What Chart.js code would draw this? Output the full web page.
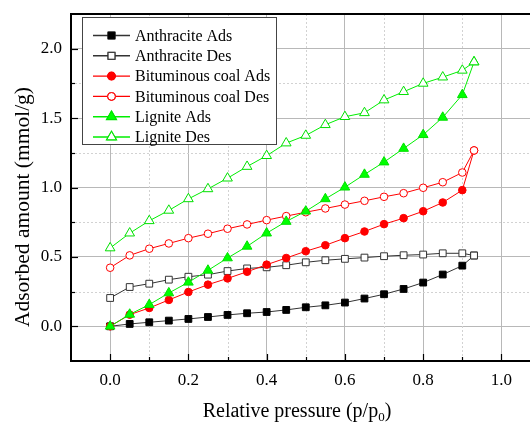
<!DOCTYPE html>
<html>
<head>
<meta charset="utf-8">
<script src="https://cdn.jsdelivr.net/npm/chart.js@4.4.0/dist/chart.umd.min.js"></script>
<style>
  html, body { margin: 0; padding: 0; background: #fff; }
</style>
</head>
<body>
<canvas id="chart" width="530" height="423"></canvas>
<script>
// relative pressure p/p0
const pressure = [0, 0.05, 0.1, 0.15, 0.2, 0.25, 0.3, 0.35, 0.4, 0.45, 0.5, 0.55, 0.6, 0.65, 0.7, 0.75, 0.8, 0.85, 0.9, 0.93];

// adsorbed amount, mmol/g
const anthraciteAds = [0, 0.017, 0.029, 0.041, 0.053, 0.067, 0.082, 0.094, 0.103, 0.118, 0.137, 0.151, 0.171, 0.2, 0.231, 0.269, 0.315, 0.373, 0.437, 0.51];
const anthraciteDes = [0.204, 0.283, 0.307, 0.336, 0.357, 0.372, 0.398, 0.417, 0.425, 0.44, 0.461, 0.476, 0.486, 0.495, 0.505, 0.512, 0.517, 0.526, 0.526, 0.51];
const bituminousAds = [0, 0.084, 0.132, 0.19, 0.247, 0.3, 0.345, 0.393, 0.444, 0.492, 0.541, 0.584, 0.635, 0.683, 0.736, 0.779, 0.829, 0.892, 0.981, 1.267];
const bituminousDes = [0.422, 0.511, 0.559, 0.597, 0.635, 0.667, 0.703, 0.734, 0.765, 0.794, 0.822, 0.849, 0.877, 0.904, 0.933, 0.959, 0.998, 1.038, 1.108, 1.267];
const ligniteAds = [0, 0.086, 0.156, 0.24, 0.317, 0.403, 0.492, 0.576, 0.671, 0.755, 0.829, 0.918, 1.002, 1.094, 1.183, 1.281, 1.38, 1.505, 1.668, 1.904];
const ligniteDes = [0.564, 0.671, 0.76, 0.835, 0.918, 0.99, 1.067, 1.151, 1.229, 1.32, 1.375, 1.452, 1.51, 1.538, 1.63, 1.69, 1.75, 1.795, 1.844, 1.904];

const seriesNames = ["Anthracite Ads", "Anthracite Des", "Bituminous coal Ads", "Bituminous coal Des", "Lignite Ads", "Lignite Des"];

const xTicks = [-0.1, 0, 0.1, 0.2, 0.3, 0.4, 0.5, 0.6, 0.7, 0.8, 0.9, 1.0];
const yTicks = [-0.25, 0, 0.25, 0.5, 0.75, 1.0, 1.25, 1.5, 1.75, 2.0, 2.25];

const serif = "'Liberation Serif', 'Times New Roman', serif";

function onStep(v, step) {
  const r = v / step;
  return Math.abs(r - Math.round(r)) < 1e-6;
}

function makeSet(label, values, line, fill, border, style, radius, idx) {
  return {
    label: label,
    data: pressure.map((p, i) => ({ x: p, y: values[i] })),
    borderColor: line,
    backgroundColor: fill,
    pointBackgroundColor: fill,
    pointBorderColor: border,
    pointStyle: style,
    pointRadius: radius,
    pointBorderWidth: 1,
    borderWidth: 1,
    tension: 0,
    order: 10 - idx, // later series on top, like Origin
  };
}

const datasets = [
  makeSet(seriesNames[0], anthraciteAds, "#333", "#000", "#000", "rect", 4.8, 0),
  makeSet(seriesNames[1], anthraciteDes, "#333", "#fff", "#333", "rect", 4.8, 1),
  makeSet(seriesNames[2], bituminousAds, "#ff0000", "#ff0000", "#ff0000", "circle", 3.8, 2),
  makeSet(seriesNames[3], bituminousDes, "#ff0000", "#fff", "#ff0000", "circle", 3.8, 3),
  makeSet(seriesNames[4], ligniteAds, "#00ee00", "#00ff00", "#00e000", "triangle", 5.6, 4),
  makeSet(seriesNames[5], ligniteDes, "#00ee00", "#fff", "#00e000", "triangle", 5.6, 5),
];

// dotted minor grid, inward ticks, top frame, boxed legend and axis titles
const decor = {
  id: "decor",
  beforeDatasetsDraw(chart) {
    const { ctx, chartArea: a, scales } = chart;
    ctx.save();
    ctx.strokeStyle = "#d2d2d2";
    ctx.lineWidth = 1;
    ctx.setLineDash([2, 2]);
    xTicks.forEach((v) => {
      if (onStep(v, 0.2) || v <= 0) return;
      const px = Math.round(scales.x.getPixelForValue(v)) + 0.5;
      ctx.beginPath(); ctx.moveTo(px, a.top); ctx.lineTo(px, a.bottom); ctx.stroke();
    });
    yTicks.forEach((v) => {
      if (onStep(v, 0.5) || v <= 0 || v >= 2.25) return;
      const py = Math.round(scales.y.getPixelForValue(v)) + 0.5;
      ctx.beginPath(); ctx.moveTo(a.left, py); ctx.lineTo(a.right, py); ctx.stroke();
    });
    ctx.restore();
  },
  afterDraw(chart) {
    const { ctx, chartArea: a, scales } = chart;
    ctx.save();
    // top frame
    ctx.strokeStyle = "#000";
    ctx.lineWidth = 2;
    ctx.beginPath(); ctx.moveTo(a.left - 1, a.top); ctx.lineTo(a.right, a.top); ctx.stroke();

    // inward ticks
    ctx.lineWidth = 1.2;
    xTicks.forEach((v) => {
      if (v < 0) return;
      const len = onStep(v, 0.2) ? 7 : 4;
      const px = Math.round(scales.x.getPixelForValue(v)) + 0.5;
      ctx.beginPath(); ctx.moveTo(px, a.bottom); ctx.lineTo(px, a.bottom - len); ctx.stroke();
    });
    yTicks.forEach((v) => {
      if (v < 0 || v > 2.2) return;
      const len = onStep(v, 0.5) ? 7 : 4;
      const py = Math.round(scales.y.getPixelForValue(v)) + 0.5;
      ctx.beginPath(); ctx.moveTo(a.left, py); ctx.lineTo(a.left + len, py); ctx.stroke();
    });

    // legend
    const box = { x: 82.5, y: 17.5, w: 194, h: 127 };
    ctx.fillStyle = "#fff";
    ctx.fillRect(box.x, box.y, box.w, box.h);
    ctx.strokeStyle = "#444";
    ctx.lineWidth = 1;
    ctx.strokeRect(box.x, box.y, box.w, box.h);
    ctx.font = "16px " + serif;
    ctx.textBaseline = "middle";
    chart.data.datasets.forEach((ds, i) => {
      const yy = 35.5 + i * 20.3;
      ctx.strokeStyle = ds.borderColor;
      ctx.lineWidth = 1.4;
      ctx.beginPath(); ctx.moveTo(93, yy); ctx.lineTo(130, yy); ctx.stroke();
      Chart.helpers.drawPoint(ctx, {
        pointStyle: ds.pointStyle,
        radius: ds.pointRadius,
        borderWidth: 1,
      }, 111.5, yy);
      ctx.fillStyle = ds.pointBackgroundColor;
      ctx.strokeStyle = ds.pointBorderColor;
      ctx.lineWidth = 1;
      ctx.fill();
      ctx.stroke();
      ctx.fillStyle = "#000";
      ctx.fillText(ds.label, 135, yy + 1);
    });

    // axis titles
    ctx.fillStyle = "#000";
    ctx.textBaseline = "middle";
    ctx.font = "21.5px " + serif;
    ctx.save();
    ctx.translate(23, 207);
    ctx.rotate(-Math.PI / 2);
    ctx.textAlign = "center";
    ctx.fillText("Adsorbed amount (mmol/g)", 0, 0);
    ctx.restore();

    const main = "Relative pressure (p/p";
    ctx.font = "20px " + serif;
    const w1 = ctx.measureText(main).width;
    ctx.font = "13px " + serif;
    const w2 = ctx.measureText("0").width;
    ctx.font = "20px " + serif;
    const w3 = ctx.measureText(")").width;
    let sx = 297 - (w1 + w2 + w3) / 2;
    ctx.textAlign = "left";
    ctx.fillText(main, sx, 412);
    sx += w1;
    ctx.font = "13px " + serif;
    ctx.fillText("0", sx, 418);
    sx += w2;
    ctx.font = "20px " + serif;
    ctx.fillText(")", sx, 412);
    ctx.restore();
  },
};

new Chart(document.getElementById("chart"), {
  type: "line",
  data: { datasets: datasets },
  plugins: [decor],
  options: {
    responsive: false,
    devicePixelRatio: 1,
    animation: false,
    layout: { autoPadding: false, padding: { top: 14, left: 0, right: 0, bottom: 0 } },
    plugins: {
      legend: { display: false },
      tooltip: { enabled: false },
    },
    scales: {
      x: {
        type: "linear",
        min: -0.1,
        max: 1.073,
        afterBuildTicks: (s) => { s.ticks = xTicks.map((v) => ({ value: v })); },
        afterFit: (s) => { s.height = 62; s.paddingLeft = 0; s.paddingRight = 0; },
        grid: {
          drawTicks: false,
          color: (c) => (c.tick && onStep(c.tick.value, 0.2) && c.tick.value >= 0 ? "#b8b8b8" : "rgba(0,0,0,0)"),
          lineWidth: 1,
        },
        border: { color: "#000", width: 2 },
        ticks: {
          padding: 9,
          color: "#000",
          font: { family: serif, size: 17 },
          maxRotation: 0,
          autoSkip: false,
          callback: (v) => (onStep(v, 0.2) && v >= 0 ? v.toFixed(1) : ""),
        },
      },
      y: {
        type: "linear",
        min: -0.25,
        max: 2.25,
        afterBuildTicks: (s) => { s.ticks = yTicks.map((v) => ({ value: v })); },
        afterFit: (s) => { s.width = 71; s.paddingTop = 0; s.paddingBottom = 0; },
        grid: {
          drawTicks: false,
          color: (c) => (c.tick && onStep(c.tick.value, 0.5) && c.tick.value >= 0 && c.tick.value < 2.2 ? "#b8b8b8" : "rgba(0,0,0,0)"),
          lineWidth: 1,
        },
        border: { color: "#000", width: 2 },
        ticks: {
          padding: 9,
          color: "#000",
          font: { family: serif, size: 17 },
          autoSkip: false,
          callback: (v) => (onStep(v, 0.5) && v >= 0 && v < 2.2 ? v.toFixed(1) : ""),
        },
      },
    },
  },
});
</script>
</body>
</html>
